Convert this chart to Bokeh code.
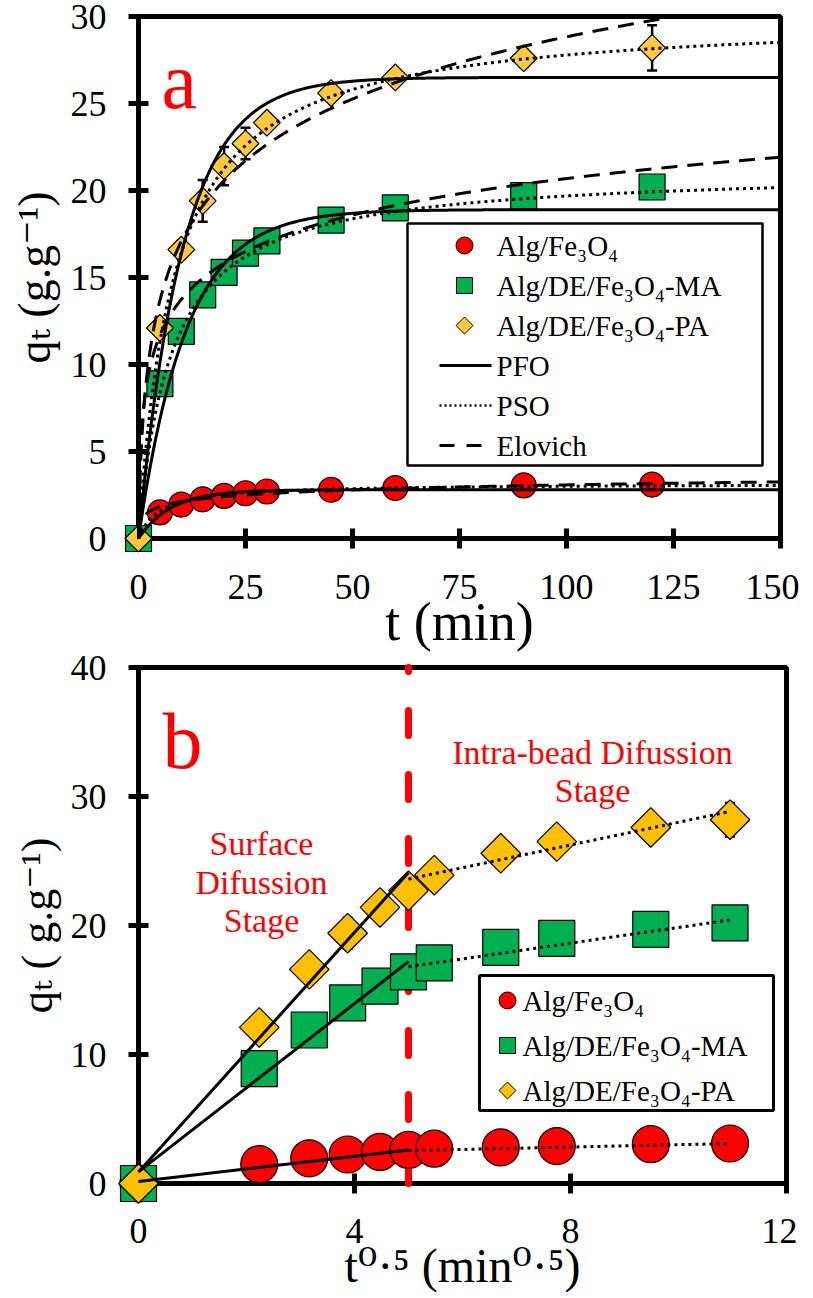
import numpy as np
from bokeh.plotting import figure
from bokeh.models import Range1d, FixedTicker, Label, ColumnDataSource, Whisker, TeeHead
from bokeh.layouts import column
from bokeh.embed import file_html
from bokeh.resources import INLINE

# ---------------- data ----------------
t_min = [0, 5, 10, 15, 20, 25, 30, 45, 60, 90, 120]
q_alg = [0, 1.5, 1.95, 2.25, 2.45, 2.6, 2.7, 2.8, 2.9, 3.05, 3.1]
q_ma = [0, 8.9, 11.9, 14.0, 15.3, 16.4, 17.1, 18.3, 19.0, 19.7, 20.2]
q_pa = [0, 12.1, 16.6, 19.4, 21.4, 22.7, 23.9, 25.6, 26.5, 27.6, 28.2]
err_alg = [0, 0.1, 0.1, 0.1, 0.1, 0.1, 0.1, 0.1, 0.1, 0.1, 0.1]
err_ma = [0, 0.3, 0.3, 0.4, 0.5, 0.5, 0.4, 0.3, 0.3, 0.3, 0.3]
err_pa = [0, 0.3, 0.5, 1.2, 1.1, 0.9, 0.5, 0.4, 0.4, 0.5, 1.3]

series_names = ["Alg/Fe₃O₄", "Alg/DE/Fe₃O₄-MA", "Alg/DE/Fe₃O₄-PA"]
model_names = ["PFO", "PSO", "Elovich"]

# kinetic model parameters (Alg/Fe3O4, MA, PA)
pfo_qe = [2.8, 18.9, 26.5]
pfo_k1 = [0.13, 0.09, 0.096]
pso_qe = [3.15, 21.2, 30.1]
pso_k2 = [0.0635, 0.00613, 0.00399]
elo_alpha = [6.43, 27.9, 13.47]
elo_beta = [2.38, 0.33, 0.193]

# intra-particle diffusion fits: stage 1 and stage 2
stage_break = 5.0
last_root = 10.95
ipd_k1 = [0.49, 3.26, 4.64]
ipd_c1 = [0.15, 0.9, 0.9]
ipd_k2 = [0.093, 0.61, 0.88]
ipd_c2 = [2.08, 13.75, 19.2]

xticks_a = [0, 25, 50, 75, 100, 125, 150]
yticks_a = [0, 5, 10, 15, 20, 25, 30]
xticks_b = [0, 4, 8, 12]
yticks_b = [0, 10, 20, 30, 40]

xlabel_a = "t (min)"
ylabel_a = "qₜ (g.g⁻¹)"
xlabel_b = "t⁰·⁵ (min⁰·⁵)"
ylabel_b = "qₜ ( g.g⁻¹)"

FONT = "Liberation Serif"
FONT_LABEL = "Liberation Serif, DejaVu Serif"
RED = "#FF0000"
GREEN = "#00B050"
GOLD_A = "#FFC93C"
GOLD_B = "#FFC000"

# ---------------- layout (page pixels) ----------------
FA = dict(L=139, R=781, T=24, B=546, x0=0, x1=150, y0=0, y1=30)
FB = dict(L=146, R=794, T=669, B=1185, x0=0, x1=12, y0=0, y1=40)
TOTAL_W = 797
ROW1 = (8, 656)
ROW2 = (656, 1290)


def px(F, X):
    return F['x0'] + (X - F['L']) / (F['R'] - F['L']) * (F['x1'] - F['x0'])


def py(F, Y):
    return F['y0'] + (F['B'] - Y) / (F['B'] - F['T']) * (F['y1'] - F['y0'])


def make_fig(F, rows, xt, yt, xlab, ylab, xlab_size, ylab_size, xlab_standoff, ylab_standoff, xtick_standoff):
    p = figure(frame_width=F['R'] - F['L'], frame_height=F['B'] - F['T'],
               min_border_left=F['L'] - 8, min_border_right=TOTAL_W - (F['R'] - 8),
               min_border_top=F['T'] - rows[0], min_border_bottom=rows[1] - F['B'],
               x_range=Range1d(F['x0'], F['x1']), y_range=Range1d(F['y0'], F['y1']),
               output_backend="svg", toolbar_location=None, title=None)
    p.xgrid.visible = False
    p.ygrid.visible = False
    p.background_fill_color = "white"
    p.border_fill_color = "white"
    p.outline_line_color = "black"
    p.outline_line_width = 5
    p.outline_line_alpha = 1
    p.xaxis.ticker = FixedTicker(ticks=xt)
    p.yaxis.ticker = FixedTicker(ticks=yt)
    for ax in (p.xaxis[0], p.yaxis[0]):
        ax.axis_line_width = 5
        ax.axis_line_color = "black"
        ax.major_tick_line_width = 5
        ax.major_tick_line_color = "black"
        ax.major_tick_in = 10
        ax.major_tick_out = 10
        ax.minor_tick_line_color = None
        ax.major_label_text_font = FONT
        ax.major_label_text_font_size = "36px"
        ax.major_label_text_color = "black"
        ax.axis_label_text_font = FONT_LABEL
        ax.axis_label_text_font_style = "normal"
        ax.axis_label_text_color = "black"
    p.yaxis[0].major_label_standoff = 22
    p.xaxis[0].major_label_standoff = xtick_standoff
    p.xaxis[0].axis_label = xlab
    p.yaxis[0].axis_label = ylab
    p.xaxis[0].axis_label_text_font_size = f"{xlab_size}px"
    p.yaxis[0].axis_label_text_font_size = f"{ylab_size}px"
    p.xaxis[0].axis_label_standoff = xlab_standoff
    p.yaxis[0].axis_label_standoff = ylab_standoff
    return p


def add_text(p, x, y, text, size, color="black", align="left", baseline="alphabetic", level="annotation"):
    p.add_layout(Label(x=x, y=y, text=text, text_font=FONT, text_font_size=f"{size}px",
                       text_color=color, text_align=align, text_baseline=baseline, level=level))


def add_errors(p, xs, ys, es):
    src = ColumnDataSource(dict(x=xs, lo=[a - b for a, b in zip(ys, es)], hi=[a + b for a, b in zip(ys, es)]))
    p.add_layout(Whisker(source=src, base="x", lower="lo", upper="hi", dimension="height",
                         line_color="black", line_width=2.5,
                         upper_head=TeeHead(size=10, line_width=2.5, line_color="black"),
                         lower_head=TeeHead(size=10, line_width=2.5, line_color="black")))


# ======================= panel a =======================
p1 = make_fig(FA, ROW1, xticks_a, yticks_a, xlabel_a, ylabel_a, 54, 46, -10, 8, 26)
add_errors(p1, t_min, q_ma, err_ma)
add_errors(p1, t_min, q_pa, err_pa)
p1.scatter(t_min, q_alg, marker="circle", size=25, fill_color=RED, line_color="black", line_width=1.2, level="overlay")
p1.scatter(t_min, q_ma, marker="square", size=26, fill_color=GREEN, line_color="black", line_width=1.2, level="overlay")
p1.scatter(t_min, q_pa, marker="square", angle=np.pi / 4, size=19, fill_color=GOLD_A, line_color="black", line_width=1.2, level="overlay")

t_fit = np.linspace(0, 150, 601)
for i in range(3):
    q1 = pfo_qe[i] * (1 - np.exp(-pfo_k1[i] * t_fit))
    q2 = pso_k2[i] * pso_qe[i] ** 2 * t_fit / (1 + pso_k2[i] * pso_qe[i] * t_fit)
    q3 = np.log(1 + elo_alpha[i] * elo_beta[i] * t_fit) / elo_beta[i]
    for q, dash in ((q1, "solid"), (q2, "3 4"), (q3, "16 10")):
        m = q <= FA['y1']
        p1.line(t_fit[m], q[m], line_color="black", line_width=3, line_dash=dash, level="overlay")

# legend a
p1.quad(left=px(FA, 408), right=px(FA, 763), top=py(FA, 231), bottom=py(FA, 473),
        fill_color="white", line_color="black", line_width=2.5, level="overlay")
rows_a = [253, 293, 333, 373, 413, 453]
p1.scatter([px(FA, 465)], [py(FA, rows_a[0])], marker="circle", size=17, fill_color=RED, line_color="black", line_width=1, level="overlay")
p1.scatter([px(FA, 465)], [py(FA, rows_a[1])], marker="square", size=16, fill_color=GREEN, line_color="black", line_width=1, level="overlay")
p1.scatter([px(FA, 465)], [py(FA, rows_a[2])], marker="square", angle=np.pi / 4, size=12, fill_color=GOLD_A, line_color="black", line_width=1, level="overlay")
for r, dash, lw in ((rows_a[3], "solid", 3), (rows_a[4], "2 3", 2.5), (rows_a[5], "15 12", 3)):
    p1.line([px(FA, 440), px(FA, 492)], [py(FA, r), py(FA, r)], line_color="black", line_width=lw, line_dash=dash, level="overlay")
for r, txt in zip(rows_a, series_names + model_names):
    add_text(p1, px(FA, 497), py(FA, r), txt, 29, baseline="middle", level="overlay")
add_text(p1, px(FA, 162), py(FA, 88), "a", 80, color=RED)

# ======================= panel b =======================
p2 = make_fig(FB, ROW2, xticks_b, yticks_b, xlabel_b, ylabel_b, 48, 44, -7, 6, 25)
root_t = np.sqrt(np.array(t_min, dtype=float))
add_errors(p2, list(root_t), q_ma, err_ma)
add_errors(p2, list(root_t), q_pa, err_pa)
p2.line([stage_break, stage_break], [FB['y0'], FB['y1']], line_color=RED, line_width=7,
        line_dash="25 39", line_cap="round", level="overlay")
p2.scatter(root_t, q_alg, marker="circle", size=37, fill_color=RED, line_color="black", line_width=1.2, level="overlay")
p2.scatter(root_t, q_ma, marker="square", size=36, fill_color=GREEN, line_color="black", line_width=1.2, level="overlay")
p2.scatter(root_t, q_pa, marker="square", angle=np.pi / 4, size=28, fill_color=GOLD_B, line_color="black", line_width=1.2, level="overlay")
for i in range(3):
    xs1 = np.array([0.0, stage_break])
    xs2 = np.array([stage_break, last_root])
    p2.line(xs1, ipd_k1[i] * xs1 + ipd_c1[i], line_color="black", line_width=3, level="overlay")
    p2.line(xs2, ipd_k2[i] * xs2 + ipd_c2[i], line_color="black", line_width=3, line_dash="3 4", level="overlay")

# legend b
p2.quad(left=px(FB, 487), right=px(FB, 781), top=py(FB, 977), bottom=py(FB, 1112),
        fill_color="white", line_color="black", line_width=3, level="overlay")
rows_b = [1002, 1047, 1092]
p2.scatter([px(FB, 515)], [py(FB, rows_b[0])], marker="circle", size=17, fill_color=RED, line_color="black", line_width=1, level="overlay")
p2.scatter([px(FB, 515)], [py(FB, rows_b[1])], marker="square", size=16, fill_color=GREEN, line_color="black", line_width=1, level="overlay")
p2.scatter([px(FB, 515)], [py(FB, rows_b[2])], marker="square", angle=np.pi / 4, size=12, fill_color=GOLD_B, line_color="black", line_width=1, level="overlay")
for r, txt in zip(rows_b, series_names):
    add_text(p2, px(FB, 530), py(FB, r), txt, 29, baseline="middle", level="overlay")

add_text(p2, px(FB, 170), py(FB, 742), "b", 80, color=RED)
add_text(p2, px(FB, 600), py(FB, 754), "Intra-bead Difussion", 34, color=RED, align="center")
add_text(p2, px(FB, 600), py(FB, 792), "Stage", 34, color=RED, align="center")
add_text(p2, px(FB, 269), py(FB, 845), "Surface", 34, color=RED, align="center")
add_text(p2, px(FB, 269), py(FB, 884), "Difussion", 34, color=RED, align="center")
add_text(p2, px(FB, 269), py(FB, 922), "Stage", 34, color=RED, align="center")

layout = column(p1, p2)
open("out.html", "w").write(file_html(layout, INLINE))
